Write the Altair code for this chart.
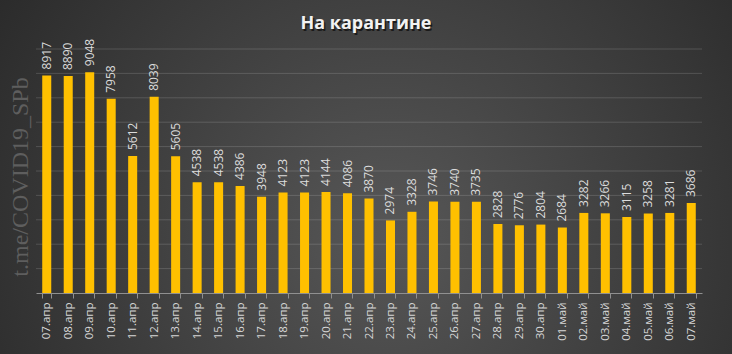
import altair as alt
import pandas as pd

dates = ["07.апр", "08.апр", "09.апр", "10.апр", "11.апр", "12.апр", "13.апр",
         "14.апр", "15.апр", "16.апр", "17.апр", "18.апр", "19.апр", "20.апр",
         "21.апр", "22.апр", "23.апр", "24.апр", "25.апр", "26.апр", "27.апр",
         "28.апр", "29.апр", "30.апр", "01.май", "02.май", "03.май", "04.май",
         "05.май", "06.май", "07.май"]
values = [8917, 8890, 9048, 7958, 5612, 8039, 5605,
          4538, 4538, 4386, 3948, 4123, 4123, 4144,
          4086, 3870, 2974, 3328, 3746, 3740, 3735,
          2828, 2776, 2804, 2684, 3282, 3266, 3115,
          3258, 3281, 3686]
grid_values = [1000, 2000, 3000, 4000, 5000, 6000, 7000, 8000, 9000, 10000]
title_text = "На карантине"
watermark = "t.me/COVID19_SPb"

df = pd.DataFrame({"d": dates, "v": values})
grid_df = pd.DataFrame({"g": grid_values})

W, H = 666, 244
PL, PT = 36, 49
TOTAL_W, TOTAL_H = 732, 354

one = pd.DataFrame({"a": [0]})

bg = alt.Chart(one).mark_rect(
    fill={
        "gradient": "radial",
        "x1": 0.53, "y1": 0.58, "r1": 0,
        "x2": 0.53, "y2": 0.58, "r2": 0.75,
        "stops": [
            {"offset": 0, "color": "#575757"},
            {"offset": 1, "color": "#222222"},
        ],
    }
).encode(
    x=alt.value(-PL), x2=alt.value(TOTAL_W - PL),
    y=alt.value(-PT), y2=alt.value(TOTAL_H - PT),
)

yscale = alt.Scale(domain=[0, 10000], nice=False)

grid = alt.Chart(grid_df).mark_rule(color="#ffffff", opacity=0.15, strokeWidth=1).encode(
    y=alt.Y("g:Q", scale=yscale, axis=None),
    x=alt.value(0), x2=alt.value(W),
)

x_enc = alt.X(
    "d:N", sort=dates, title=None,
    scale=alt.Scale(paddingInner=0.58, paddingOuter=0.29),
    axis=alt.Axis(
        labelAngle=-90, tickBand="extent", tickSize=5, tickColor="#909090",
        domainColor="#909090", labelColor="#d6d6d6", labelFontSize=11.5,
        labelFont="Open Sans", labelPadding=4, grid=False, zindex=2,
    ),
)
y_enc = alt.Y("v:Q", title=None, scale=yscale, axis=None)

bars = alt.Chart(df).mark_bar(color="#FFC000").encode(x=x_enc, y=y_enc)

labels = alt.Chart(df).mark_text(
    angle=270, align="left", baseline="middle", dx=6,
    font="Open Sans", fontSize=12, color="#dcdcdc",
).encode(x=alt.X("d:N", sort=dates), y=alt.Y("v:Q", scale=yscale, axis=None), text="v:Q")

title_shadow = alt.Chart(one).mark_text(
    text=title_text, font="Open Sans", fontSize=18, fontWeight="bold",
    color="#111111", opacity=0.8, align="center", baseline="middle",
).encode(x=alt.value(366 - PL + 1.5), y=alt.value(24 - PT + 1.5))

title = alt.Chart(one).mark_text(
    text=title_text, font="Open Sans", fontSize=18, fontWeight="bold",
    color="#f2f2f2", align="center", baseline="middle",
).encode(x=alt.value(366 - PL), y=alt.value(24 - PT))

wm = alt.Chart(one).mark_text(
    text=watermark, font="Liberation Serif", fontSize=24, color="#5e5e5e",
    angle=270, align="center", baseline="middle",
).encode(x=alt.value(21 - PL), y=alt.value(177 - PT))

chart = alt.layer(bg, wm, grid, bars, labels, title_shadow, title).properties(
    width=W, height=H,
    autosize=alt.AutoSizeParams(type="none"),
    padding={"left": PL, "top": PT, "right": TOTAL_W - PL - W, "bottom": TOTAL_H - PT - H},
).configure(background="#262626").configure_view(stroke=None)

chart.save("out.html", embed_options={"renderer": "svg", "actions": False})
